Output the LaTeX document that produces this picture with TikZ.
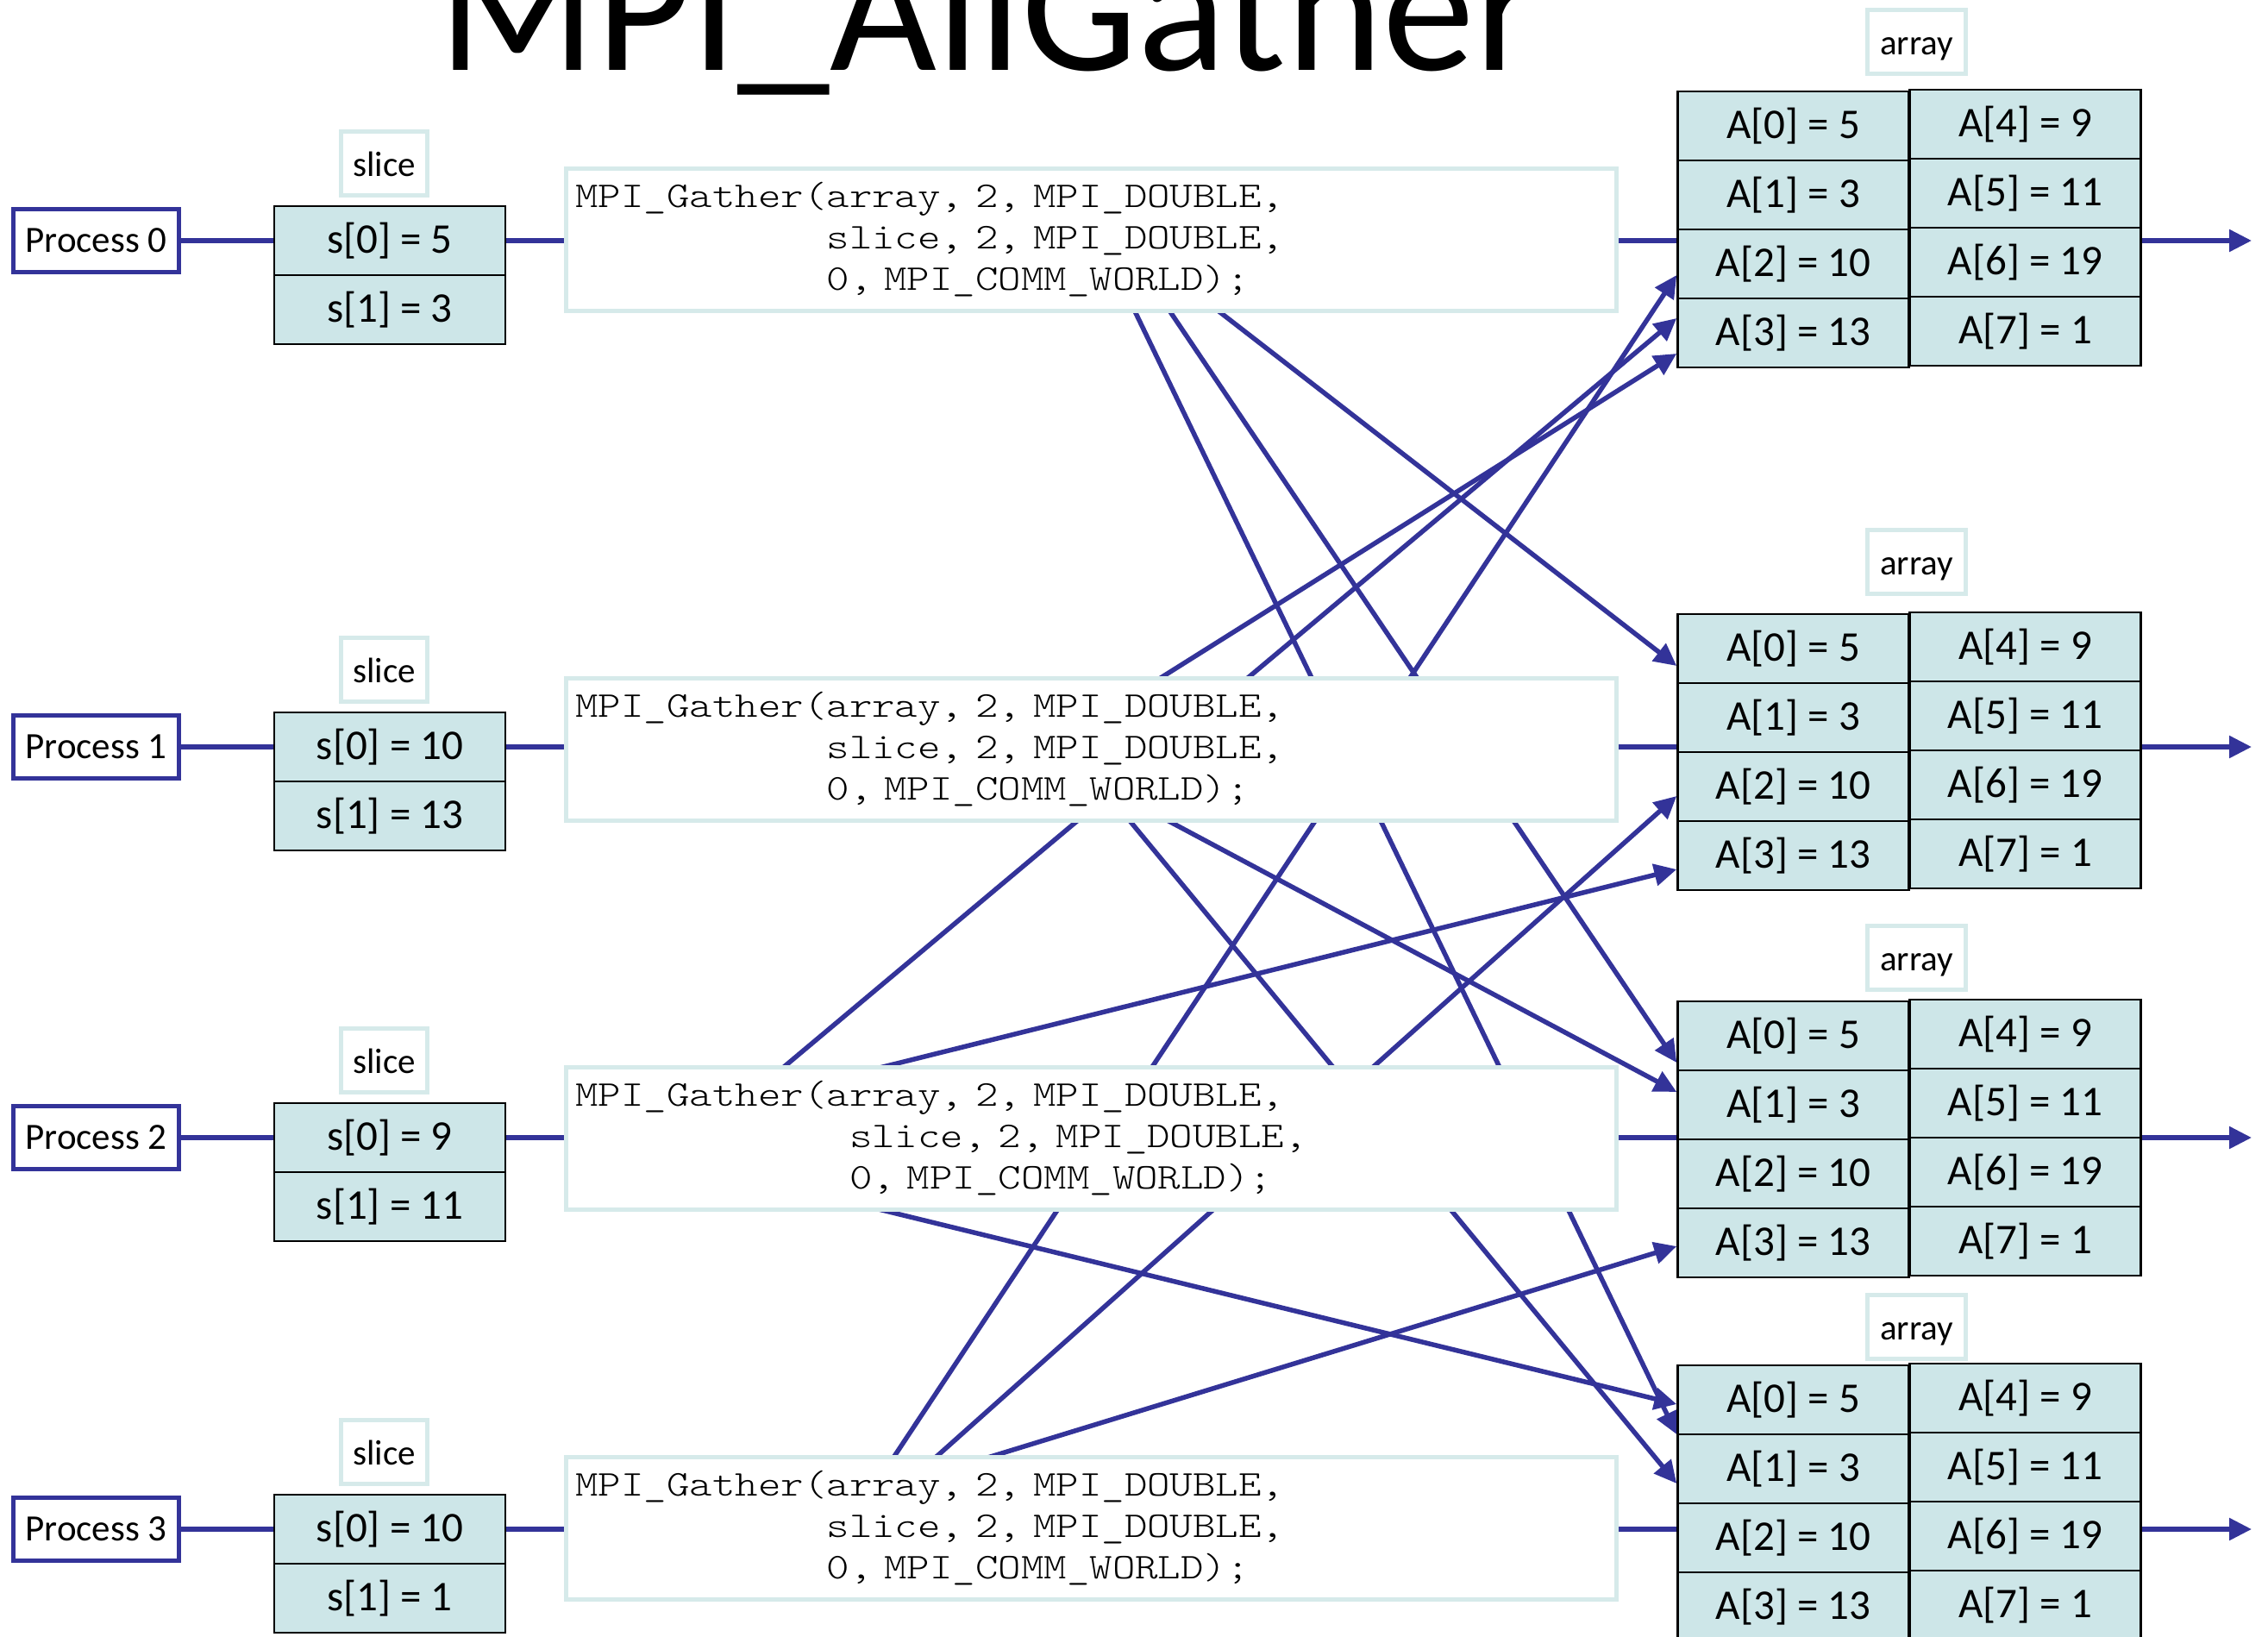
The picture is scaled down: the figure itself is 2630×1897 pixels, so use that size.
\documentclass[tikz,border=0pt]{standalone}
\usepackage{fontspec}
\setmainfont{Carlito}
\newfontfamily\codefont{lmmonolt10-regular}[Extension=.otf, FakeStretch=1.2]
\usetikzlibrary{arrows.meta,calc,backgrounds}

\definecolor{mpiblue}{RGB}{51,51,153}
\definecolor{cellfill}{RGB}{205,230,232}
\definecolor{paleframe}{RGB}{214,234,234}

\tikzset{
  procbox/.style={draw=mpiblue, line width=5pt, fill=white, minimum width=192pt,
    minimum height=73pt, inner sep=0pt, font=\fontsize{43}{50}\selectfont},
  cell/.style={draw=black, line width=2.5pt, fill=cellfill, minimum width=268pt,
    minimum height=80pt, inner sep=0pt, font=\fontsize{49}{56}\selectfont},
  tag/.style={draw=paleframe, line width=5pt, fill=white, minimum height=74pt,
    inner sep=0pt, text height=30pt, text depth=0pt, font=\fontsize{41}{48}\selectfont},
  codebox/.style={draw=paleframe, line width=5pt, fill=white, minimum width=1218pt,
    minimum height=165pt, inner xsep=11pt, text width=1196pt, align=left,
    font=\codefont\fontsize{42}{48}\selectfont},
  link/.style={draw=mpiblue, line width=5.5pt},
  flow/.style={link, shorten <=-14pt, -{Triangle[length=26pt,width=25pt]}},
}

\begin{document}
\begin{tikzpicture}[x=1pt,y=-1pt]
\useasboundingbox (0,0) rectangle (2630,1897);
\clip (0,0) rectangle (2630,1897);

% title
\node[anchor=base west, inner sep=0pt, font=\fontsize{214}{214}\selectfont] (title) at (508,82) {MPI\_AllGather};

% one row per process: name, slice, call, gathered array
\foreach \row/\ry/\cy/\ly/\ay/\aly/\sva/\svb/\ind in {
  0/279/278/189.5/106/49/5/3/11,
  1/866/869/776.5/712/651/10/13/11,
  2/1319/1319.5/1229.5/1161/1110.5/9/11/12,
  3/1773/1772/1683/1583/1538/10/1/11}{
  \node[procbox] (proc\row) at (111.5,\ry) {Process \row};
  \node[cell] (s\row0) at (452,\ry) {s[0] = \sva};
  \node[cell] (s\row1) at (452,\ry+80) {s[1] = \svb};
  \node[tag, minimum width=100pt] (slice\row) at (445.5,\ly) {slice};
  \node[codebox] (code\row) at (1265.5,\cy)
    {MPI\_Gather(array, 2, MPI\_DOUBLE,\\\hspace*{\ind\fontcharwd\font`M}slice, 2, MPI\_DOUBLE,\\\hspace*{\ind\fontcharwd\font`M}0, MPI\_COMM\_WORLD);};
  \node[tag, minimum width=114pt] (arrlabel\row) at (2222.5,\aly) {array};
  \foreach \k/\v in {0/5,1/3,2/10,3/13}
    \node[cell] (a\row\k) at (2079.5,\ay+40+80*\k) {A[\k] = \v};
  \foreach \k/\v in {4/9,5/11,6/19,7/1}
    \node[cell] (a\row\k) at (2348.5,\ay+38+80*\k-320) {A[\k] = \v};
  \coordinate (out\row) at (2611,\ry);
  \begin{scope}[on background layer]
    \draw[link] (proc\row.east) -- (s\row0.west);
    \draw[link] (s\row0.east) -- (s\row0.east -| code\row.west);
    \draw[link] (s\row0.east -| code\row.east) -- (s\row0.east -| a\row0.west);
    \draw[flow] (s\row0.east -| a\row4.east) -- (out\row);
  \end{scope}
}

% data sent from each call to the other processes' arrays
\begin{scope}[on background layer]
  \draw[flow] ($(code0.south west)+(663,0)$) -- ($(a30.west)+(0,40)$);
  \draw[flow] ($(code0.south west)+(704,0)$) -- ($(a20.west)+(0,31)$);
  \draw[flow] ($(code0.south west)+(762,0)$) -- ($(a10.west)+(0,20)$);
  \draw[flow] ($(code1.north west)+(695,0)$) -- ($(a03.west)+(0,24)$);
  \draw[flow] ($(code1.south west)+(658,0)$) -- ($(a31.west)+(0,17)$);
  \draw[flow] ($(code1.south west)+(705,0)$) -- ($(a21.west)+(0,-15)$);
  \draw[flow] ($(code2.north west)+(258,0)$) -- ($(a03.west)+(0,-17)$);
  \draw[flow] ($(code2.north west)+(380,0)$) -- ($(a13.west)+(0,16)$);
  \draw[flow] ($(code2.south west)+(375,0)$) -- ($(a30.west)+(0,5)$);
  \draw[flow] ($(code3.north west)+(384,0)$) -- ($(a02.west)+(0,13)$);
  \draw[flow] ($(code3.north west)+(434,0)$) -- ($(a12.west)+(0,11)$);
  \draw[flow] ($(code3.north west)+(501,0)$) -- ($(a23.west)+(0,4)$);
\end{scope}
\end{tikzpicture}
\end{document}
